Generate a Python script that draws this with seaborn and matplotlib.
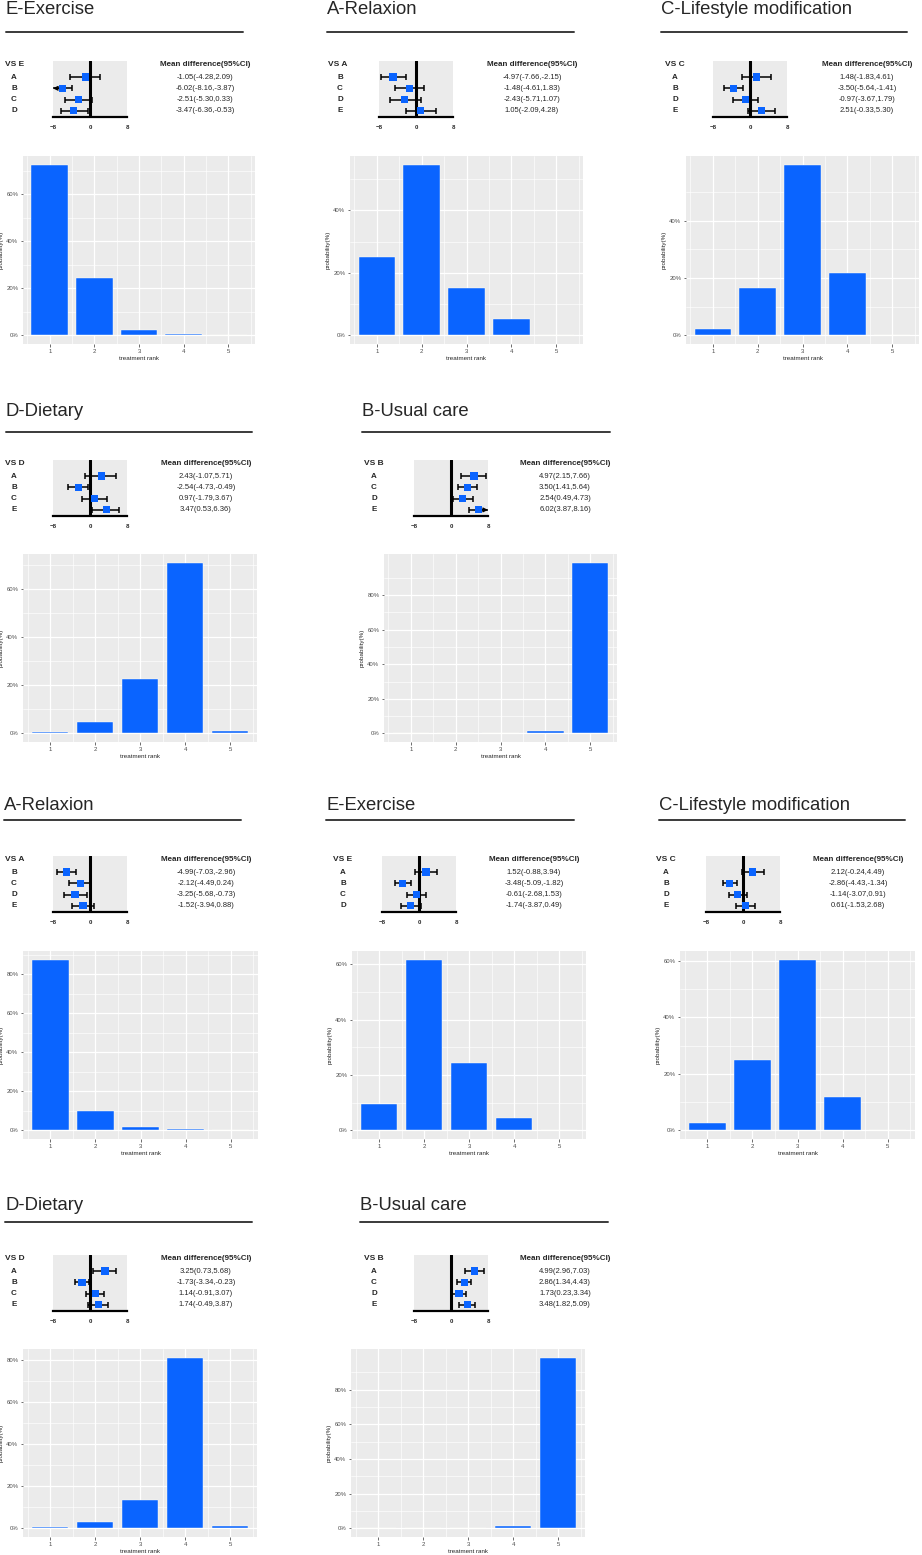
import numpy as np
import pandas as pd
import matplotlib
matplotlib.use("Agg")
import matplotlib.pyplot as plt
import seaborn as sns
from matplotlib import transforms
from matplotlib.lines import Line2D

# ---- data ----
titles = ["E-Exercise", "A-Relaxion", "C-Lifestyle modification", "D-Dietary", "B-Usual care",
          "A-Relaxion", "E-Exercise", "C-Lifestyle modification", "D-Dietary", "B-Usual care"]
refs = ["E", "A", "C", "D", "B", "A", "E", "C", "D", "B"]
comparators = [["A", "B", "C", "D"], ["B", "C", "D", "E"], ["A", "B", "D", "E"],
               ["A", "B", "C", "E"], ["A", "C", "D", "E"],
               ["B", "C", "D", "E"], ["A", "B", "C", "D"], ["A", "B", "D", "E"],
               ["A", "B", "C", "E"], ["A", "C", "D", "E"]]
md_mean = [[-1.05, -6.02, -2.51, -3.47], [-4.97, -1.48, -2.43, 1.05], [1.48, -3.50, -0.97, 2.51],
           [2.43, -2.54, 0.97, 3.47], [4.97, 3.50, 2.54, 6.02],
           [-4.99, -2.12, -3.25, -1.52], [1.52, -3.48, -0.61, -1.74], [2.12, -2.86, -1.14, 0.61],
           [3.25, -1.73, 1.14, 1.74], [4.99, 2.86, 1.73, 3.48]]
md_low = [[-4.28, -8.16, -5.30, -6.36], [-7.66, -4.61, -5.71, -2.09], [-1.83, -5.64, -3.67, -0.33],
          [-1.07, -4.73, -1.79, 0.53], [2.15, 1.41, 0.49, 3.87],
          [-7.03, -4.49, -5.68, -3.94], [-0.88, -5.09, -2.68, -3.87], [-0.24, -4.43, -3.07, -1.53],
          [0.73, -3.34, -0.91, -0.49], [2.96, 1.34, 0.23, 1.82]]
md_high = [[2.09, -3.87, 0.33, -0.53], [-2.15, 1.83, 1.07, 4.28], [4.61, -1.41, 1.79, 5.30],
           [5.71, -0.49, 3.67, 6.36], [7.66, 5.64, 4.73, 8.16],
           [-2.96, 0.24, -0.73, 0.88], [3.94, -1.82, 1.53, 0.49], [4.49, -1.34, 0.91, 2.68],
           [5.68, -0.23, 3.07, 3.87], [7.03, 4.43, 3.34, 5.09]]
ranks = [1, 2, 3, 4, 5]
rank_prob = [[72.6, 24.3, 2.5, 0.6, 0.0], [25.0, 54.6, 15.3, 5.1, 0.0], [2.2, 16.4, 59.6, 21.8, 0.0],
             [0.7, 4.8, 22.5, 71.1, 0.9], [0.0, 0.0, 0.0, 1.2, 98.8],
             [87.6, 9.9, 2.0, 0.5, 0.0], [9.7, 61.7, 24.2, 4.4, 0.0], [2.7, 25.1, 60.5, 11.7, 0.0],
             [0.5, 3.3, 13.4, 81.4, 1.4], [0.0, 0.0, 0.0, 1.5, 98.5]]

# ---- layout (pixels) ----
W, H = 922, 1555
row_of = [0, 0, 0, 1, 1, 2, 2, 2, 3, 3]
title_y = [10, 412, 806, 1206]
line_y = [32, 432, 820, 1222]
vs_y = [64, 463, 859, 1258]
bar_y = [(156, 344), (554, 742), (951, 1139), (1349, 1537)]
# title_x, line x0, line x1, vs_x, label_x, gray x0, gray x1, mean text x, bar x0, bar x1
cols = [(5, 6, 243, 5, 14, 53, 127, 205, 23, 255),
        (327, 327, 574, 328, 340, 379, 453, 532, 350, 583),
        (661, 661, 907, 665, 675, 713, 787, 867, 686, 919),
        (5, 6, 252, 5, 14, 53, 127, 206, 23, 257),
        (362, 362, 610, 364, 374, 414, 488, 565, 384, 617),
        (4, 4, 241, 5, 14, 53, 127, 206, 23, 258),
        (326, 326, 574, 333, 343, 382, 456, 534, 352, 586),
        (659, 659, 905, 656, 666, 706, 780, 858, 680, 915),
        (5, 5, 252, 5, 14, 53, 127, 206, 23, 257),
        (360, 360, 608, 364, 374, 414, 488, 565, 351, 585)]

sns.set_style("white")
plt.rcParams['font.family'] = ['Liberation Sans', 'DejaVu Sans']

BLUE = '#0A64FF'
PANEL = '#EBEBEB'

fig = plt.figure(figsize=(W / 100, H / 100), dpi=100)


def box(x0, x1, ytop, ybot):
    return [x0 / W, 1 - ybot / H, (x1 - x0) / W, (ybot - ytop) / H]


for k in range(len(titles)):
    r = row_of[k]
    tx, lx0, lx1, vsx, labx, gx0, gx1, mx, bx0, bx1 = cols[k]

    # title + rule
    fig.text(tx / W, 1 - title_y[r] / H, titles[k], fontsize=13.3, ha='left', va='center')
    fig.add_artist(Line2D([lx0 / W, lx1 / W], [1 - line_y[r] / H] * 2, color='#3a3a3a', lw=1.4))

    # forest plot
    gtop = vs_y[r] - 3
    ax = fig.add_axes(box(gx0, gx1, gtop, gtop + 56))
    ax.set_facecolor(PANEL)
    m = np.array(md_mean[k])
    lo = np.array(md_low[k])
    hi = np.array(md_high[k])
    yy = np.arange(len(m))
    lo_c = np.clip(lo, -8, 8)
    hi_c = np.clip(hi, -8, 8)
    ax.axvline(0, color='black', lw=2.2, zorder=2)
    ax.hlines(yy, lo_c, hi_c, color='black', lw=1.1, zorder=3)
    cap_lo = lo > -8
    cap_hi = hi < 8
    ax.scatter(lo_c[cap_lo], yy[cap_lo], marker='|', s=22, color='black', linewidths=1.1, zorder=3)
    ax.scatter(hi_c[cap_hi], yy[cap_hi], marker='|', s=22, color='black', linewidths=1.1, zorder=3)
    for i in np.where(~cap_lo)[0]:
        ax.annotate('', xy=(-8, yy[i]), xytext=(-6.6, yy[i]), annotation_clip=False,
                    arrowprops=dict(arrowstyle='->', lw=1.1, color='black', mutation_scale=6,
                                    shrinkA=0, shrinkB=0), zorder=3)
    for i in np.where(~cap_hi)[0]:
        ax.annotate('', xy=(8, yy[i]), xytext=(6.6, yy[i]), annotation_clip=False,
                    arrowprops=dict(arrowstyle='->', lw=1.1, color='black', mutation_scale=6,
                                    shrinkA=0, shrinkB=0), zorder=3)
    sns.scatterplot(x=m, y=yy, marker='s', color=BLUE, s=26, edgecolor='none', ax=ax, zorder=4)
    ax.set_xlim(-8, 8)
    ax.set_ylim(3.54, -1.42)
    ax.set_xticks([-8, 0, 8])
    ax.set_yticks([])
    for s in ['top', 'left', 'right']:
        ax.spines[s].set_visible(False)
    ax.spines['bottom'].set_linewidth(1.6)
    ax.spines['bottom'].set_color('black')
    ax.tick_params(axis='x', direction='inout', length=6, width=1.3, labelsize=4.4, pad=2.5)
    for t in ax.get_xticklabels():
        t.set_fontweight('bold')
    ax.grid(False)

    trans = transforms.blended_transform_factory(fig.transFigure, ax.transData)
    fig.text(vsx / W, -1.15, f"VS {refs[k]}", transform=trans, fontsize=6, fontweight='bold',
             ha='left', va='center')
    fig.text(mx / W, -1.15, "Mean difference(95%CI)", transform=trans, fontsize=5.8,
             fontweight='bold', ha='center', va='center')
    for i, c in enumerate(comparators[k]):
        fig.text(labx / W, yy[i], c, transform=trans, fontsize=5.8, fontweight='bold',
                 ha='center', va='center')
        fig.text(mx / W, yy[i], f"{m[i]:.2f}({lo[i]:.2f},{hi[i]:.2f})", transform=trans,
                 fontsize=5.5, ha='center', va='center')

    # rank probability bars
    bt, bb = bar_y[r]
    bx = fig.add_axes(box(bx0, bx1, bt, bb))
    bx.set_facecolor(PANEL)
    df = pd.DataFrame({'rank': ranks, 'prob': rank_prob[k]})
    sns.barplot(data=df, x='rank', y='prob', order=ranks, color=BLUE, saturation=1,
                edgecolor='#FFFFFA', linewidth=0.3, width=0.82, ax=bx, zorder=3)
    pmax = max(rank_prob[k])
    bx.set_ylim(-0.05 * pmax, 1.05 * pmax)
    bx.set_xlim(-0.6, len(ranks) - 0.4)
    yt = np.arange(0, pmax + 0.01, 20)
    bx.set_yticks(yt)
    bx.set_yticklabels([f"{int(v)}%" for v in yt])
    bx.set_yticks(np.arange(10, 1.05 * pmax, 20), minor=True)
    bx.set_xticks(range(len(ranks)))
    bx.set_xticklabels([str(v) for v in ranks])
    bx.set_xticks(np.arange(-0.5, len(ranks), 1.0), minor=True)
    bx.set_axisbelow(True)
    bx.grid(which='major', color='white', lw=0.9)
    bx.grid(which='minor', color='white', lw=0.45)
    for s in bx.spines.values():
        s.set_visible(False)
    bx.tick_params(which='major', labelsize=4.3, length=1.8, width=0.5, color='#333333',
                   labelcolor='#4D4D4D', pad=1.5, bottom=True, left=True)
    bx.tick_params(which='minor', length=0)
    bx.set_xlabel('treatment rank', fontsize=4.5, labelpad=2)
    bx.set_ylabel('probability(%)', fontsize=4.5, labelpad=2)

fig.savefig('out.png', dpi=100)
